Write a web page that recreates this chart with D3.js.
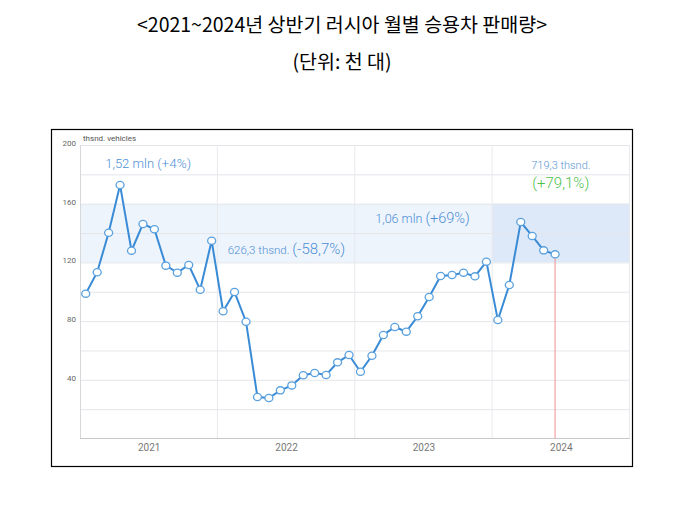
<!DOCTYPE html>
<html><head><meta charset="utf-8">
<script src="https://cdn.jsdelivr.net/npm/d3@7/dist/d3.min.js"></script>
<style>
body{margin:0;background:#fff;}
svg{display:block;}
</style></head>
<body>
<svg id="c" width="682" height="510"></svg>
<script>
const years = ["2021","2022","2023","2024"];
const sales2021 = [98.7,113.3,140.2,172.7,128,146.2,142.6,117.8,113,118.2,101.4,134.8];
const sales2022 = [86.7,99.8,79.6,28.3,27.6,32.8,36.2,43.1,44.6,43.3,51.9,56.9];
const sales2023 = [45.5,56.4,70.5,76,72.8,83.3,96.4,110.7,111.4,113,110.5,120.5];
const sales2024 = [80.7,104.6,147.5,138,128.2,125.5];
const yTicks = [40,80,120,160,200];
const gridValues = [20,40,60,80,100,120,140,160,180,200];
const bandRange = [120,160];
const annotations = [
  {month:2.2, value:184, parts:[["1,52 mln ",13],["(+4%)",13.5]]},
  {month:12.9, value:126, parts:[["626,3 thsnd. ",11.5],["(-58,7%)",15]]},
  {month:25.8, value:147, parts:[["1,06 mln ",12.5],["(+69%)",14.5]]}
];
const totalLabel = "719,3 thsnd.";
const totalChange = "(+79,1%)";
const title = "<2021~2024년 상반기 러시아 월별 승용차 판매량>";
const subtitle = "(단위: 천 대)";
const unitLabel = "thsnd. vehicles";

const data = [...sales2021, ...sales2022, ...sales2023, ...sales2024].map((v,i)=>({i,v}));

const svg = d3.select("#c");
const x = d3.scaleLinear().domain([0,48]).range([80,629.5]);
const y = d3.scaleLinear().domain([0,200]).range([438.5,145]);
const cx = d => x(d.i + 0.5);

// titles
svg.append("text").attr("x",342).attr("y",32).attr("text-anchor","middle")
  .attr("font-family","'Noto Sans CJK KR','Noto Sans',sans-serif").attr("font-size",19.5).attr("fill","#000").text(title);
svg.append("text").attr("x",342).attr("y",69).attr("text-anchor","middle")
  .attr("font-family","'Noto Sans CJK KR','Noto Sans',sans-serif").attr("font-size",19.5).attr("fill","#000").text(subtitle);

// frame
svg.append("rect").attr("x",51.5).attr("y",129.5).attr("width",581).attr("height",337)
  .attr("fill","#fff").attr("stroke","#000").attr("stroke-width",1.2);

// bands
svg.append("rect").attr("x",x(0)).attr("y",y(bandRange[1])).attr("width",x(36)-x(0))
  .attr("height",y(bandRange[0])-y(bandRange[1])).attr("fill","#eef4fc");
svg.append("rect").attr("x",x(36)).attr("y",y(bandRange[1])).attr("width",x(48)-x(36))
  .attr("height",y(bandRange[0])-y(bandRange[1])).attr("fill","#dde9f9");

// grid
svg.append("g").selectAll("line").data(gridValues).join("line")
  .attr("x1",x(0)).attr("x2",x(48)).attr("y1",d=>y(d)+0.5).attr("y2",d=>y(d)+0.5)
  .attr("stroke","#e4e6ea").attr("stroke-width",1);
svg.append("g").selectAll("line").data([12,24,36,48]).join("line")
  .attr("x1",d=>x(d)).attr("x2",d=>x(d)).attr("y1",y(200)).attr("y2",y(0))
  .attr("stroke","#e8e9ec").attr("stroke-width",1);

// axes
const yAxis = d3.axisLeft(y).tickValues(yTicks).tickSize(0).tickPadding(4);
const gy = svg.append("g").attr("transform",`translate(${x(0)},-2)`).call(yAxis);
gy.select(".domain").remove();
gy.selectAll("text").attr("font-family","Roboto, sans-serif").attr("font-size",8).attr("fill","#666");
svg.append("line").attr("x1",x(0)+0.5).attr("x2",x(0)+0.5).attr("y1",y(200)).attr("y2",y(0))
  .attr("stroke","#d6d8dc");
svg.append("line").attr("x1",x(0)).attr("x2",x(48)).attr("y1",y(0)).attr("y2",y(0))
  .attr("stroke","#c8c8c8").attr("stroke-width",1.2);

const xAxis = d3.axisBottom(x).tickValues([6,18,30,42]).tickFormat((d,i)=>years[i]).tickSize(0).tickPadding(5);
const gx = svg.append("g").attr("transform",`translate(0,${y(0)})`).call(xAxis);
gx.select(".domain").remove();
gx.selectAll("text").attr("font-family","Roboto, sans-serif").attr("font-size",10).attr("fill","#777");

svg.append("text").attr("x",83).attr("y",141).attr("font-family","Roboto, sans-serif")
  .attr("font-size",8).attr("fill","#555").text(unitLabel);

// red marker line
const last = data[data.length-1];
svg.append("line").attr("x1",cx(last)).attr("x2",cx(last)).attr("y1",y(last.v)).attr("y2",y(0))
  .attr("stroke","#f2a0a0").attr("stroke-width",1.2);

// line
svg.append("path").datum(data).attr("fill","none").attr("stroke","#3a8bd6").attr("stroke-width",2)
  .attr("d",d3.line().x(cx).y(d=>y(d.v)));
svg.append("g").selectAll("ellipse").data(data).join("ellipse")
  .attr("cx",cx).attr("cy",d=>y(d.v)).attr("rx",4).attr("ry",3.6)
  .attr("fill","#fff").attr("stroke","#5ba1de").attr("stroke-width",1.3);

// annotations
annotations.forEach(a=>{
  const t = svg.append("text").attr("x",x(a.month)).attr("y",y(a.value))
    .attr("font-family","Roboto, sans-serif").attr("font-weight",300).attr("fill","#4d8fd6");
  a.parts.forEach(p=>t.append("tspan").attr("font-size",p[1]).text(p[0]));
});
svg.append("text").attr("x",x(42)).attr("y",y(183.5)).attr("text-anchor","middle")
  .attr("font-family","Roboto, sans-serif").attr("font-weight",300).attr("font-size",11)
  .attr("fill","#5a95d4").text(totalLabel);
svg.append("text").attr("x",x(42)).attr("y",y(171)).attr("text-anchor","middle")
  .attr("font-family","Roboto, sans-serif").attr("font-weight",300).attr("font-size",15)
  .attr("fill","#4cbf4c").text(totalChange);
</script>
</body></html>
